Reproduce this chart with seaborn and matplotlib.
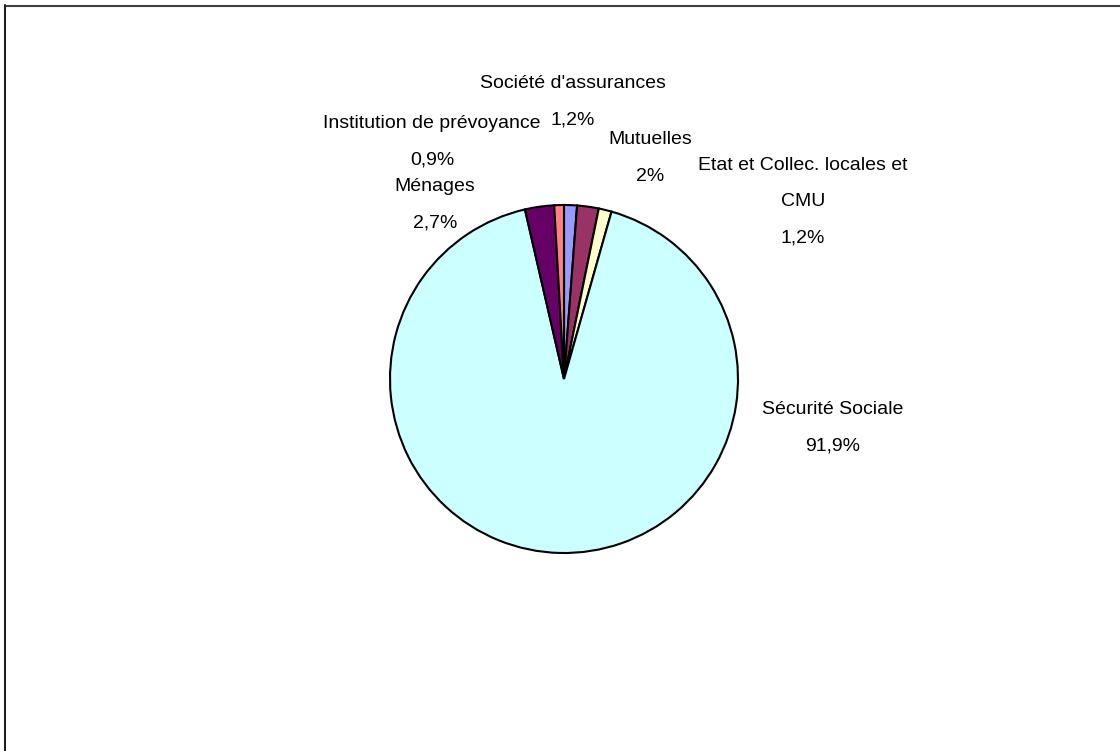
import matplotlib
matplotlib.use("Agg")
import matplotlib.pyplot as plt
from matplotlib.lines import Line2D
import seaborn as sns

# ---- data ----
categories = ["Société d'assurances", "Mutuelles", "Etat et Collec. locales et CMU",
              "Sécurité Sociale", "Ménages", "Institution de prévoyance"]
values = [1.2, 2.0, 1.2, 91.9, 2.7, 0.9]
label_texts = ["Société d'assurances\n1,2%", "Mutuelles\n2%",
               "Etat et Collec. locales et\nCMU\n1,2%", "Sécurité Sociale\n91,9%",
               "Ménages\n2,7%", "Institution de prévoyance\n0,9%"]
colors = ["#9999FF", "#993366", "#FFFFCC", "#CCFFFF", "#660066", "#FF8080"]

# label block centers in pixel coordinates (layout)
label_pos_px = [(573, 101.5), (650, 158), (803, 201.5), (833, 427.5), (435, 205), (432, 141.5)]

sns.set_theme(style="white")
plt.rcParams['font.family'] = ['Liberation Sans Narrow', 'Liberation Sans', 'DejaVu Sans']

W, H = 1120, 751
CX, CY, R = 564, 379, 174
LINE_PX = 36.5

fig = plt.figure(figsize=(W / 100, H / 100), dpi=100)
fig.patch.set_facecolor("white")
ax = fig.add_axes([0, 0, 1, 1])

palette = sns.color_palette(colors)
ax.pie(values, colors=palette, startangle=90, counterclock=False, radius=1,
       wedgeprops=dict(edgecolor="black", linewidth=1.5))

ax.set_xlim(-CX / R, (W - CX) / R)
ax.set_ylim(-(H - CY) / R, CY / R)
ax.set_aspect("auto")
ax.set_axis_off()

for txt, (px, py) in zip(label_texts, label_pos_px):
    lines = txt.split("\n")
    n = len(lines)
    for i, line in enumerate(lines):
        ly = py + (i - (n - 1) / 2) * LINE_PX
        ax.text((px - CX) / R, (CY - ly) / R, line, ha="center", va="center",
                fontsize=14, color="black")

# outer frame (top and left edges)
fig.add_artist(Line2D([5 / W, 1.0], [1 - 5.5 / H, 1 - 5.5 / H], transform=fig.transFigure,
                      color="#404040", linewidth=1.5))
fig.add_artist(Line2D([4.5 / W, 4.5 / W], [0, 1 - 5 / H], transform=fig.transFigure,
                      color="#202020", linewidth=1.5))

fig.savefig("out.png", dpi=100, facecolor="white")
